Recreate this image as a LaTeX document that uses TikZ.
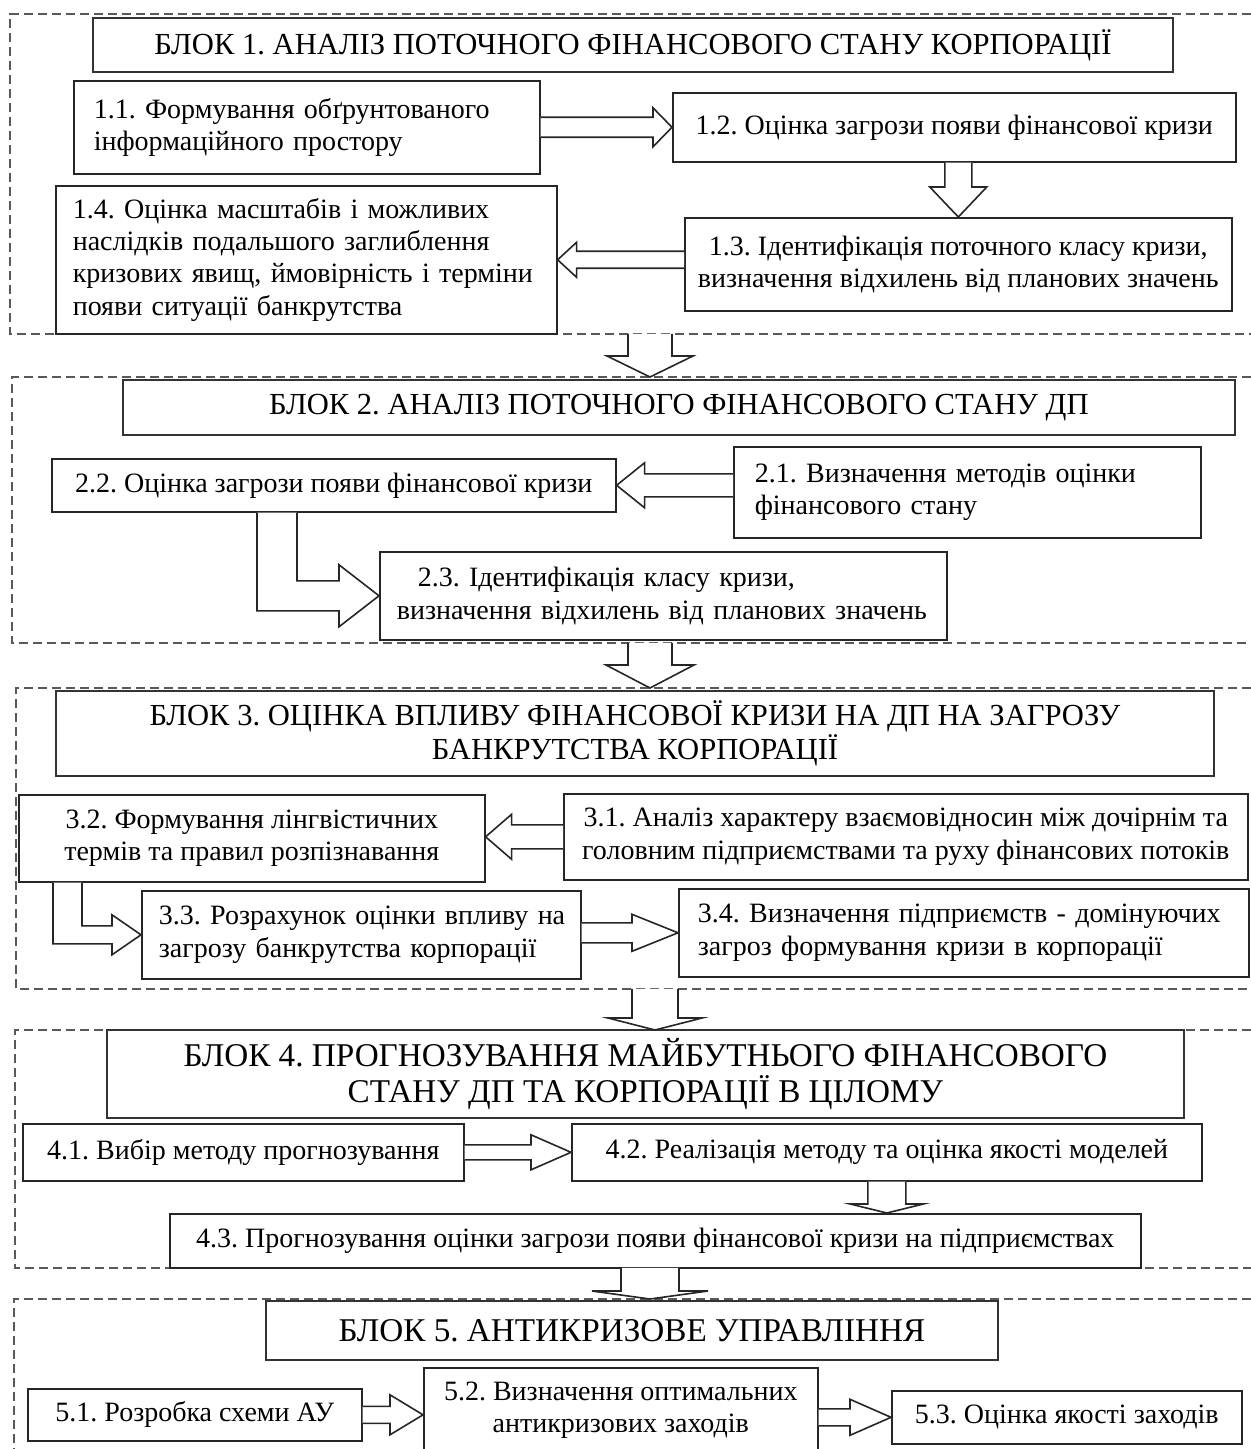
\documentclass[tikz,border=0pt]{standalone}
\usepackage{fontspec}
\setmainfont{Liberation Serif}
\usepackage{tikz}
\usetikzlibrary{calc,positioning}
\frenchspacing

\newcommand{\itemsize}{\fontsize{14}{16.2}\selectfont}
\newcommand{\titlesize}{\fontsize{15.3}{17}\selectfont}
\newcommand{\bigtitlesize}{\fontsize{16.6}{18}\selectfont}

% hollow block arrow: tail, tip, shaft half width, head half width, head length
\newcommand{\blockarrow}[5]{%
  \draw[blockarr] ($(#1)!#3!90:(#2)$)
    -- ($(#2)!#5!(#1)!#3!90:(#2)$)
    -- ($(#2)!#5!(#1)!#4!90:(#2)$)
    -- (#2)
    -- ($(#2)!#5!(#1)!#4!-90:(#2)$)
    -- ($(#2)!#5!(#1)!#3!-90:(#2)$)
    -- ($(#1)!#3!-90:(#2)$);}

\begin{document}
\begin{tikzpicture}[x=0.5pt, y=-0.5pt,
        framebox/.style={rectangle, anchor=north west, inner sep=0pt},
        frameline/.style={draw=black!65, line width=0.75pt, dash pattern=on 4.5pt off 2.5pt},
        titlebox/.style={rectangle, draw=black!80, line width=1pt, anchor=north west,
        inner sep=0pt, align=center, font=\titlesize},
        stepbox/.style={rectangle, draw=black!85, line width=0.8pt, anchor=north west,
        inner sep=0pt, align=center, font=\itemsize},
        leftbox/.style={stepbox, align=left, inner xsep=#1},
        blockarr/.style={draw=black!85, line width=0.8pt, fill=white, line join=miter}]
    \useasboundingbox (0,0) rectangle (1250,1449);

    % dashed frames of the five blocks
    \node [framebox, minimum width=620pt, minimum height=159.5pt] (f1) at (10,14) {};
    \node [framebox, minimum width=619pt, minimum height=132.5pt] (f2) at (12,377) {};
    \node [framebox, minimum width=617pt, minimum height=150pt] (f3) at (16,688) {};
    \node [framebox, minimum width=617.5pt, minimum height=118.5pt] (f4) at (15,1030) {};
    \node [framebox, minimum width=618pt, minimum height=75pt] (f5) at (14,1299) {};
    \foreach \f in {f1,f2,f3,f4}
        \draw [frameline] (\f.north east) -- (\f.north west) -- (\f.south west) -- (\f.south east);
    \draw [frameline] (f5.north east) -- (f5.north west) -- (f5.south west);

    % block 1
    \node [titlebox, minimum width=540pt, minimum height=27pt] (t1) at (92,17)
        {БЛОК 1. АНАЛІЗ ПОТОЧНОГО ФІНАНСОВОГО СТАНУ КОРПОРАЦІЇ};
    \node [leftbox=10pt, text width=213pt, minimum width=233pt, minimum height=46.5pt] (n11) at (73,80)
        {1.1. Формування обґрунтованого\\ інформаційного простору};
    \node [stepbox, minimum width=281.5pt, minimum height=34.5pt] (n12) at (672,92)
        {1.2. Оцінка загрози появи фінансової кризи};
    \node [stepbox, minimum width=273.5pt, minimum height=46.5pt] (n13) at (684,217)
        {1.3. Ідентифікація поточного класу кризи,\\ визначення відхилень від планових значень};
    \node [leftbox=8.5pt, text width=233.5pt, minimum width=250.5pt, minimum height=74pt] (n14) at (55,185)
        {1.4. Оцінка масштабів і можливих\\ наслідків подальшого заглиблення\\ кризових явищ, ймовірність і терміни\\ появи ситуації банкрутства};

    % block 2
    \node [titlebox, minimum width=556pt, minimum height=27.5pt] (t2) at (122,379)
        {БЛОК 2. АНАЛІЗ ПОТОЧНОГО ФІНАНСОВОГО СТАНУ ДП};
    \node [stepbox, minimum width=282pt, minimum height=26.5pt] (n22) at (51,458)
        {2.2. Оцінка загрози появи фінансової кризи};
    \node [leftbox=10.5pt, text width=212.5pt, minimum width=233.5pt, minimum height=45.5pt] (n21) at (733,446)
        {2.1. Визначення методів оцінки\\ фінансового стану};
    \node [leftbox=8.5pt, text width=266.5pt, minimum width=283.5pt, minimum height=44pt] (n23) at (379,551)
        {\hspace*{10.5pt}2.3. Ідентифікація класу кризи,\\ визначення відхилень від планових значень};

    % block 3
    \node [titlebox, minimum width=579pt, minimum height=42.5pt] (t3) at (55,690)
        {БЛОК 3. ОЦІНКА ВПЛИВУ ФІНАНСОВОЇ КРИЗИ НА ДП НА ЗАГРОЗУ\\ БАНКРУТСТВА КОРПОРАЦІЇ};
    \node [stepbox, minimum width=233pt, minimum height=43.5pt] (n32) at (18,794)
        {3.2. Формування лінгвістичних\\ термів та правил розпізнавання};
    \node [stepbox, minimum width=342pt, minimum height=43pt] (n31) at (563,793)
        {3.1. Аналіз характеру взаємовідносин між дочірнім та\\ головним підприємствами та руху фінансових потоків};
    \node [leftbox=8.5pt, text width=202.5pt, minimum width=219.5pt, minimum height=44pt] (n33) at (141,890)
        {\mbox{3.3. Розрахунок оцінки впливу на}\\ загрозу банкрутства корпорації};
    \node [leftbox=9.5pt, text width=266pt, minimum width=285pt, minimum height=44pt] (n34) at (678,888)
        {3.4. Визначення підприємств - домінуючих\\ загроз формування кризи в корпорації};

    % block 4
    \node [titlebox, font=\bigtitlesize, minimum width=538.5pt, minimum height=44pt] (t4) at (106,1029)
        {БЛОК 4. ПРОГНОЗУВАННЯ МАЙБУТНЬОГО ФІНАНСОВОГО\\ СТАНУ ДП ТА КОРПОРАЦІЇ В ЦІЛОМУ};
    \node [stepbox, minimum width=220.5pt, minimum height=28.5pt] (n41) at (22,1123)
        {4.1. Вибір методу прогнозування};
    \node [stepbox, minimum width=315pt, minimum height=28.5pt] (n42) at (571,1123)
        {4.2. Реалізація методу та оцінка якості моделей};
    \node [stepbox, minimum width=485.5pt, minimum height=27pt] (n43) at (169,1213)
        {4.3. Прогнозування оцінки загрози появи фінансової кризи на підприємствах};

    % block 5
    \node [titlebox, font=\bigtitlesize, minimum width=366pt, minimum height=29.5pt] (t5) at (265,1300)
        {БЛОК 5. АНТИКРИЗОВЕ УПРАВЛІННЯ};
    \node [stepbox, minimum width=167pt, minimum height=26pt] (n51) at (27,1388)
        {5.1. Розробка схеми АУ};
    \node [stepbox, minimum width=197pt, minimum height=42.5pt] (n52) at (423,1367)
        {5.2. Визначення оптимальних\\ антикризових заходів};
    \node [stepbox, minimum width=175pt, minimum height=26.5pt] (n53) at (891,1390)
        {5.3. Оцінка якості заходів};

    % arrow ends
    \coordinate (ax) at (650,0);
    \coordinate (bx) at (655,0);
    \coordinate (a12) at (n12.south -| n13.north);
    \coordinate (a13) at (n13.west |- n14.east);
    \coordinate (a21) at (n21.west |- n22.east);
    \coordinate (a32) at (n31.west -| n32.east);
    \coordinate (a33) at (n34.west -| n33.east);
    \coordinate (a43) at (n43.north -| n42.south);
    \coordinate (a52) at (n51.east -| n52.west);
    \coordinate (a53) at (n53.west -| n52.east);
    \coordinate (b1) at (f1.south -| ax);
    \coordinate (b2) at (f2.north -| ax);
    \coordinate (b2s) at (f2.south -| ax);
    \coordinate (b3) at (f3.north -| ax);
    \coordinate (b3s) at (f3.south -| bx);
    \coordinate (b4) at (f4.north -| bx);
    \coordinate (b4s) at (f4.south -| ax);
    \coordinate (b5) at (f5.north -| ax);

    % arrows inside the blocks
    \blockarrow{n11.east}{n12.west}{5pt}{9.75pt}{9.5pt}
    \blockarrow{a12}{n13.north}{6.75pt}{14.25pt}{15pt}
    \blockarrow{a13}{n14.east}{4.25pt}{8.75pt}{9.5pt}
    \blockarrow{a21}{n22.east}{5.75pt}{11.25pt}{14pt}
    \draw [blockarr] ($(n22.south west)+(206,0)$) |- ($(n23.west)+(-40,15)$) -- ++(0,16) -- (n23.west)
        -- ($(n23.west)+(-40,-31)$) -- ++(0,16) -| ($(n22.south west)+(246,0)$);
    \blockarrow{n31.west}{a32}{6pt}{11.25pt}{13pt}
    \draw [blockarr] ($(n32.south west)+(35,0)$) |- ($(n33.west)+(-29,9)$) -- ++(0,11) -- (n33.west)
        -- ($(n33.west)+(-29,-20)$) -- ++(0,11) -| ($(n32.south west)+(64,0)$);
    \blockarrow{a33}{n34.west}{5pt}{9.25pt}{23pt}
    \blockarrow{n41.east}{n42.west}{3.75pt}{8.75pt}{20pt}
    \blockarrow{n42.south}{a43}{9.5pt}{18.25pt}{4.5pt}
    \blockarrow{n51.east}{a52}{4.25pt}{10pt}{16.5pt}
    \blockarrow{a53}{n53.west}{4.25pt}{9pt}{20.5pt}

    % arrows between the blocks
    \blockarrow{b1}{b2}{11pt}{21.5pt}{10.5pt}
    \blockarrow{b2s}{b3}{11pt}{22pt}{11.5pt}
    \blockarrow{b3s}{b4}{11.5pt}{23.5pt}{6pt}
    \blockarrow{b4s}{b5}{14.5pt}{29pt}{4pt}
\end{tikzpicture}
\end{document}
